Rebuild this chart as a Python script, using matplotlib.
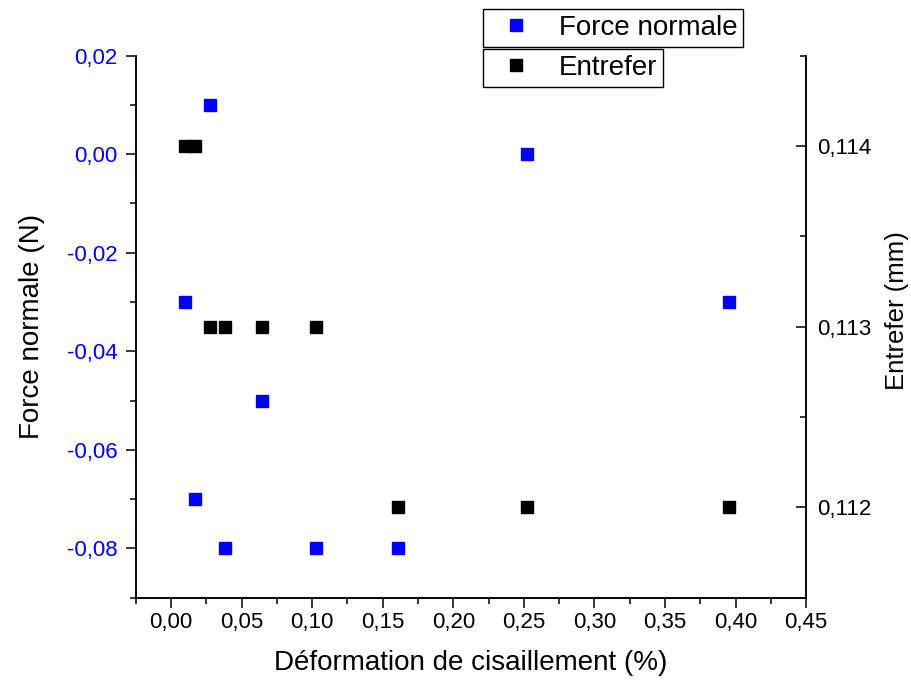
import numpy as np
import matplotlib
matplotlib.use("Agg")
import matplotlib.pyplot as plt
from matplotlib.ticker import MultipleLocator, FuncFormatter
from matplotlib.lines import Line2D

plt.rcParams['font.family'] = ['Liberation Sans', 'DejaVu Sans']

# shear strain (%)
deformation = [0.0099, 0.0167, 0.0276, 0.0385, 0.0647, 0.103, 0.161, 0.252, 0.395]
force_normale = [-0.03, -0.07, 0.01, -0.08, -0.05, -0.08, -0.08, 0.00, -0.03]
entrefer = [0.114, 0.114, 0.113, 0.113, 0.113, 0.113, 0.112, 0.112, 0.112]

blue = "#0000ff"
MS = 8
TICK_FS = 16
LAB_FS = 20

def comma(fmt):
  return FuncFormatter(lambda v, p: fmt.format(v).replace('.', ','))

fig = plt.figure(figsize=(9.11, 6.84), dpi=100)
ax = fig.add_axes([0.149, 0.1262, 0.736, 0.7924])
ax2 = ax.twinx()

ax.plot(deformation, force_normale, 's', color=blue, ms=MS, ls='none')
ax2.plot(deformation, entrefer, 's', color='k', ms=MS, ls='none')

ax.set_xlim(-0.025, 0.45)
ax.set_ylim(-0.09, 0.02)
ax2.set_ylim(0.1115, 0.1145)

ax.xaxis.set_major_locator(MultipleLocator(0.05))
ax.xaxis.set_minor_locator(MultipleLocator(0.025))
ax.yaxis.set_major_locator(MultipleLocator(0.02))
ax.yaxis.set_minor_locator(MultipleLocator(0.01))
ax2.yaxis.set_major_locator(MultipleLocator(0.001))
ax2.yaxis.set_minor_locator(MultipleLocator(0.0005))

ax.xaxis.set_major_formatter(comma('{:.2f}'))
ax.yaxis.set_major_formatter(comma('{:.2f}'))
ax2.yaxis.set_major_formatter(comma('{:.3f}'))

for a in (ax, ax2):
  a.spines['top'].set_visible(False)
  for s in a.spines.values():
    s.set_linewidth(1.1)

ax.tick_params(axis='both', which='major', direction='out', length=7, width=1.1, labelsize=TICK_FS)
ax.tick_params(axis='both', which='minor', direction='out', length=4, width=1.1)
ax.tick_params(axis='y', which='both', labelcolor=blue, pad=6)
ax.tick_params(axis='y', right=False)
ax2.tick_params(axis='y', which='major', direction='in', length=7, width=1.1, labelsize=TICK_FS, pad=8)
ax2.tick_params(axis='y', which='minor', direction='in', length=4, width=1.1)

ax.set_xlabel('Déformation de cisaillement (%)', fontsize=LAB_FS, labelpad=12)
ax.set_ylabel('Force normale (N)', fontsize=LAB_FS, labelpad=16)
ax2.set_ylabel('Entrefer (mm)', fontsize=18.5)
ax2.yaxis.set_label_coords(1.118, 0.53)

h1 = Line2D([], [], marker='s', color=blue, ls='none', ms=MS)
h2 = Line2D([], [], marker='s', color='k', ls='none', ms=MS)
kw = dict(loc='upper left', fontsize=20, fancybox=False, framealpha=1, edgecolor='k',
          borderpad=0.22, handlelength=1.9, handletextpad=0.6, borderaxespad=0,
          bbox_transform=fig.transFigure)
leg1 = ax2.legend([h1], ['Force normale'], bbox_to_anchor=(483/911, 1-9/684), **kw)
ax2.add_artist(leg1)
leg2 = ax2.legend([h2], ['Entrefer'], bbox_to_anchor=(483/911, 1-49/684), **kw)
for lg in (leg1, leg2):
  lg.get_frame().set_linewidth(1.0)

fig.savefig('out.png', dpi=100)
